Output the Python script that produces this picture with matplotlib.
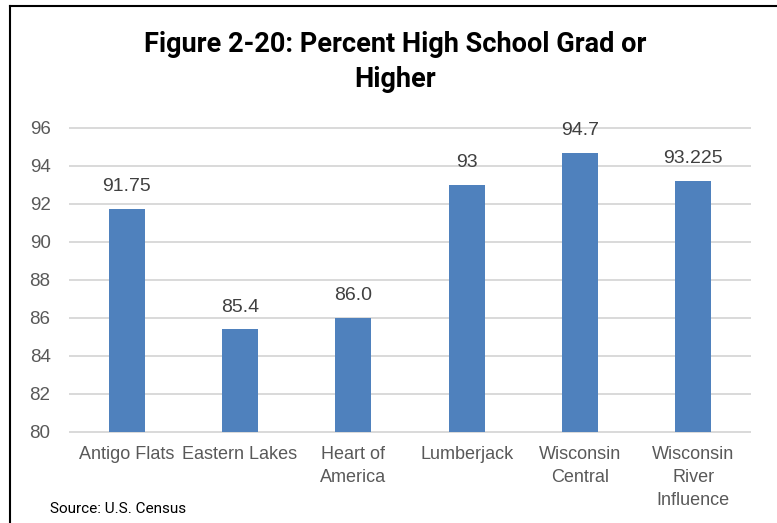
import matplotlib
matplotlib.use("Agg")
import matplotlib.pyplot as plt
from matplotlib.lines import Line2D

districts = ["Antigo Flats", "Eastern Lakes", "Heart of\nAmerica", "Lumberjack",
             "Wisconsin\nCentral", "Wisconsin\nRiver\nInfluence"]
pct_grad = [91.75, 85.4, 86.0, 93, 94.7, 93.225]
value_labels = ["91.75", "85.4", "86.0", "93", "94.7", "93.225"]
y_ticks = [80, 82, 84, 86, 88, 90, 92, 94, 96]

BODY = ["Liberation Sans", "DejaVu Sans"]
NARROW = ["Roboto", "DejaVu Sans"]

W, H = 777, 523
fig = plt.figure(figsize=(W / 100, H / 100), dpi=100)
ax = fig.add_axes([70 / W, 1 - 432 / H, 680 / W, 304 / H])

x = range(len(districts))
ax.bar(x, pct_grad, width=0.32, bottom=0, color="#4f81bd", zorder=3)
ax.set_ylim(80, 96)
ax.set_xlim(-0.5, len(districts) - 0.5)
ax.set_yticks(y_ticks)
ax.yaxis.grid(True, color="#d9d9d9", linewidth=1.4, zorder=0)
for gl in ax.get_ygridlines():
    gl.set_clip_on(False)
for s in ax.spines.values():
    s.set_visible(False)
ax.tick_params(axis="y", length=0, pad=14, labelsize=13.5, labelcolor="#595959")
ax.tick_params(axis="x", length=0, pad=10)
ax.set_yticklabels([str(t) for t in y_ticks], family=BODY)
ax.set_xticks(list(x))
ax.set_xticklabels(districts, fontsize=13, color="#595959", linespacing=1.45,
                   va="top", family=BODY)

for i, (v, lab) in enumerate(zip(pct_grad, value_labels)):
    ax.annotate(lab, (i, v), xytext=(0, 10), textcoords="offset points",
                ha="center", va="bottom", fontsize=14, color="#404040",
                family=BODY)

fig.text(395 / W, 1 - 62 / H, "Figure 2-20: Percent High School Grad or\nHigher",
         ha="center", va="center", fontsize=19.5, fontweight="bold",
         linespacing=1.35, family=NARROW)
fig.text(50 / W, 1 - 509 / H, "Source: U.S. Census", ha="left", va="center",
         fontsize=11, color="black", family=NARROW)

# outer chart frame (left and top edges only)
fig.add_artist(Line2D([9.5 / W, 9.5 / W], [0, 1 - 5.5 / H], transform=fig.transFigure,
                      color="black", linewidth=1.5))
fig.add_artist(Line2D([9.5 / W, 1], [1 - 5.5 / H, 1 - 5.5 / H], transform=fig.transFigure,
                      color="black", linewidth=1.5))

fig.savefig("out.png", dpi=100)
